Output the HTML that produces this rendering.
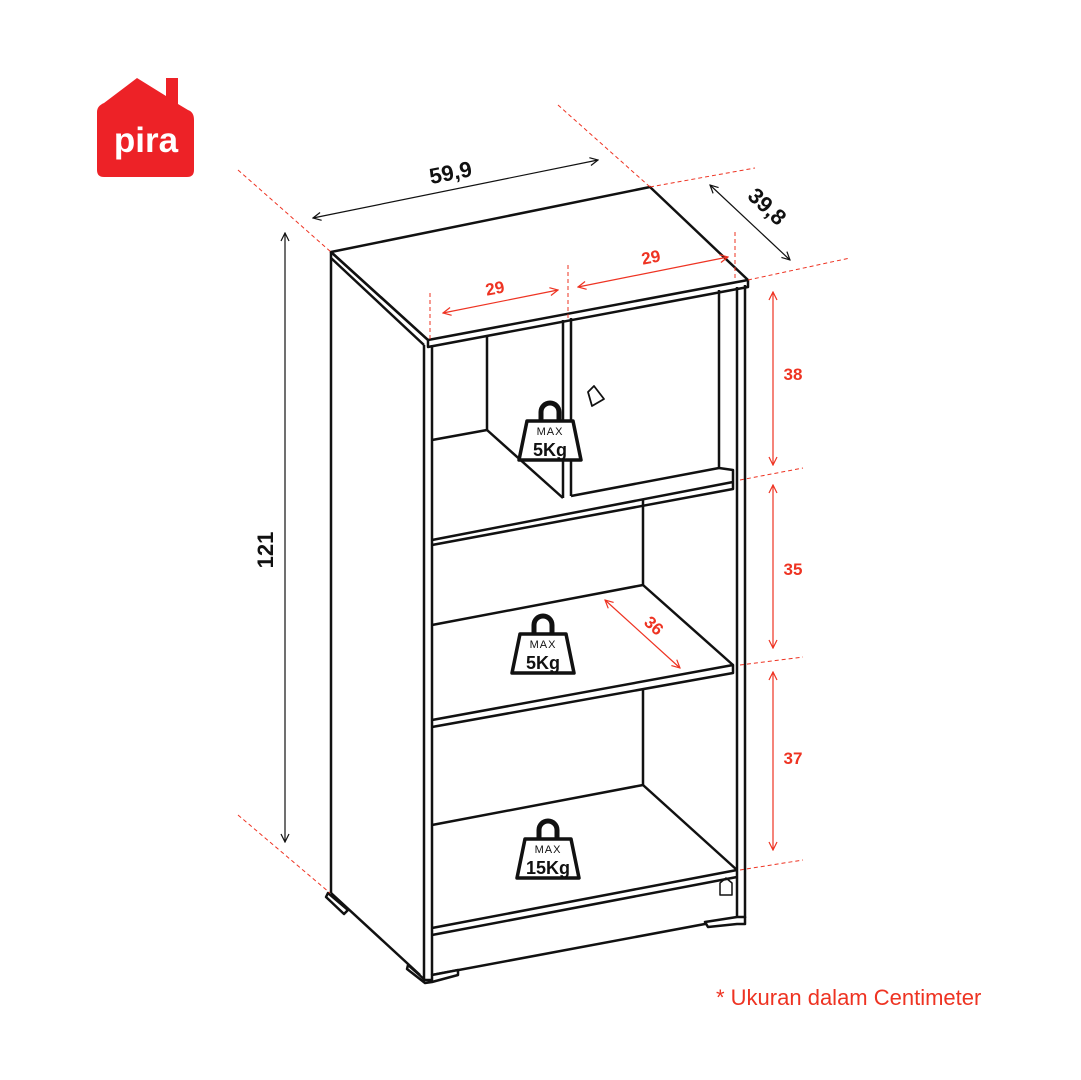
<!DOCTYPE html>
<html><head><meta charset="utf-8"><style>
html,body{margin:0;padding:0;background:#fff}
svg{display:block}
text{font-family:"Liberation Sans",sans-serif}
</style></head><body>
<svg width="1081" height="1080" viewBox="0 0 1081 1080" xmlns="http://www.w3.org/2000/svg">
<defs>
<marker id="ak" markerWidth="10" markerHeight="10" refX="9" refY="5" orient="auto-start-reverse" markerUnits="userSpaceOnUse"><path d="M1,1 L9,5 L1,9" fill="none" stroke="#111" stroke-width="1.2"/></marker>
<marker id="ar" markerWidth="10" markerHeight="10" refX="9" refY="5" orient="auto-start-reverse" markerUnits="userSpaceOnUse"><path d="M1,1 L9,5 L1,9" fill="none" stroke="#e32" stroke-width="1.2"/></marker>
<g id="w">
<path d="M-9,-12 L-9,-20 A9,9 0 0 1 9,-20 L9,-12" fill="none" stroke="#111" stroke-width="5"/>
<path d="M-23,-11 L23,-11 L31,28 L-31,28 Z" fill="#fff" stroke="#111" stroke-width="3.5" stroke-linejoin="round"/>
<text x="0" y="3" font-size="11" text-anchor="middle" fill="#111" letter-spacing="1">MAX</text>
</g>
</defs>
<!-- logo -->
<path d="M104,103 L137,78 L166,96 L166,78 L178,78 L178,104 L188,110 Q194,112 194,120 L194,170 Q194,177 187,177 L104,177 Q97,177 97,170 L97,112 Q97,106 104,103 Z" fill="#ed2227"/>
<text x="146" y="152" font-size="35" fill="#fff" text-anchor="middle" font-weight="bold">pira</text>

<!-- black dims -->
<g stroke="#111" stroke-width="1.2" fill="none">
<line x1="313" y1="218" x2="598" y2="160" marker-start="url(#ak)" marker-end="url(#ak)"/>
<line x1="710" y1="185" x2="790" y2="260" marker-start="url(#ak)" marker-end="url(#ak)"/>
<line x1="285" y1="233" x2="285" y2="842" marker-start="url(#ak)" marker-end="url(#ak)"/>
</g>
<g fill="#111" font-weight="bold" font-size="22">
<text x="452" y="180" text-anchor="middle" transform="rotate(-11 452 180)">59,9</text>
<text x="762" y="212" text-anchor="middle" transform="rotate(43 762 212)">39,8</text>
<text x="273" y="550" text-anchor="middle" transform="rotate(-90 273 550)">121</text>
</g>

<!-- furniture -->
<g stroke="#111" stroke-width="2.5" fill="none" stroke-linejoin="round">
<path d="M331,252 L650,187 L748,280 L748,287 L428,347 L428,340 Z" fill="#fff"/>
<line x1="428" y1="340" x2="748" y2="280"/>
<line x1="331" y1="252" x2="428" y2="340"/>
<line x1="331" y1="258" x2="424" y2="345"/>
<line x1="331" y1="252" x2="331" y2="893"/>
<line x1="424" y1="345" x2="424" y2="980"/>
<line x1="432" y1="345" x2="432" y2="975"/>
<line x1="331" y1="893" x2="420" y2="975"/>
<line x1="737" y1="287" x2="737" y2="918"/>
<line x1="745" y1="285" x2="745" y2="918"/>
<line x1="719" y1="290" x2="719" y2="468"/>
<line x1="563" y1="320" x2="563" y2="498"/>
<line x1="571" y1="318" x2="571" y2="496"/>
<line x1="487" y1="335" x2="487" y2="430"/>
<line x1="432" y1="440" x2="487" y2="430"/>
<line x1="487" y1="430" x2="563" y2="498"/>
<line x1="571" y1="496" x2="719" y2="468"/>
<path d="M719,468 L733,470 L733,482 L432,540 M432,545 L733,489 L733,482"/>
<line x1="643" y1="500" x2="643" y2="585"/>
<line x1="432" y1="625" x2="643" y2="585"/>
<line x1="643" y1="585" x2="733" y2="665"/>
<path d="M432,720 L733,665 L733,673 L432,727"/>
<line x1="643" y1="690" x2="643" y2="785"/>
<line x1="432" y1="825" x2="643" y2="785"/>
<line x1="643" y1="785" x2="737" y2="870"/>
<line x1="432" y1="928" x2="737" y2="870"/>
<line x1="432" y1="935" x2="737" y2="877"/>
<line x1="432" y1="975" x2="737" y2="918"/>
<path d="M328,893 L348,910 L344,914 L326,897 Z" fill="#fff"/>
<path d="M408,965 L425,980 L432,980 L432,975 L458,970 L458,975 L432,982 L425,983 L407,969 Z" fill="#fff"/>
<path d="M705,922 L737,917 L745,917 L745,924 L737,924 L708,927 Z" fill="#fff"/>
<path d="M720,895 L720,883 L726,878 L732,883 L732,895 Z" stroke-width="1.5"/>
<path d="M588,392 L594,386 L604,399 L592,406 Z" stroke-width="1.8" fill="#fff"/>
</g>

<!-- red dashed guides -->
<g stroke="#e32" stroke-width="1" stroke-dasharray="4,3" fill="none">
<line x1="238" y1="170" x2="331" y2="252"/>
<line x1="558" y1="105" x2="650" y2="187"/>
<line x1="650" y1="187" x2="755" y2="168"/>
<line x1="748" y1="280" x2="850" y2="258"/>
<line x1="238" y1="815" x2="330" y2="893"/>
<line x1="740" y1="480" x2="803" y2="468"/>
<line x1="740" y1="665" x2="803" y2="657"/>
<line x1="740" y1="870" x2="803" y2="860"/>
<line x1="430" y1="293" x2="430" y2="340"/>
<line x1="568" y1="265" x2="568" y2="318"/>
<line x1="735" y1="232" x2="735" y2="280"/>
</g>
<!-- red dims -->
<g stroke="#e32" stroke-width="1.2" fill="none">
<line x1="443" y1="313" x2="558" y2="290" marker-start="url(#ar)" marker-end="url(#ar)"/>
<line x1="578" y1="287" x2="728" y2="257" marker-start="url(#ar)" marker-end="url(#ar)"/>
<line x1="773" y1="292" x2="773" y2="465" marker-start="url(#ar)" marker-end="url(#ar)"/>
<line x1="773" y1="485" x2="773" y2="648" marker-start="url(#ar)" marker-end="url(#ar)"/>
<line x1="773" y1="672" x2="773" y2="850" marker-start="url(#ar)" marker-end="url(#ar)"/>
<line x1="605" y1="600" x2="680" y2="668" marker-start="url(#ar)" marker-end="url(#ar)"/>
</g>
<g fill="#e32" font-weight="bold" font-size="17">
<text x="496" y="294" text-anchor="middle" transform="rotate(-11 496 294)">29</text>
<text x="652" y="263" text-anchor="middle" transform="rotate(-11 652 263)">29</text>
<text x="793" y="380" text-anchor="middle">38</text>
<text x="793" y="575" text-anchor="middle">35</text>
<text x="793" y="764" text-anchor="middle">37</text>
<text x="650" y="630" text-anchor="middle" transform="rotate(42 650 630)">36</text>
</g>
<text x="716" y="1005" fill="#e32" font-size="22">* Ukuran dalam Centimeter</text>

<use href="#w" x="550" y="432"/>
<text x="550" y="456" font-size="18" font-weight="bold" text-anchor="middle" fill="#111">5Kg</text>
<use href="#w" x="543" y="645"/>
<text x="543" y="669" font-size="18" font-weight="bold" text-anchor="middle" fill="#111">5Kg</text>
<use href="#w" x="548" y="850"/>
<text x="548" y="874" font-size="18" font-weight="bold" text-anchor="middle" fill="#111">15Kg</text>
</svg>
</body></html>
